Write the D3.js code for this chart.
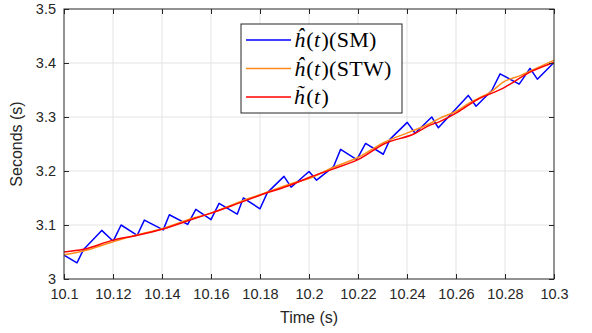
<!DOCTYPE html>
<html>
<head>
<meta charset="utf-8">
<script src="https://cdn.jsdelivr.net/npm/d3@7"></script>
<style>
  body { margin: 0; background: #fff; }
  text { font-family: "Liberation Sans", Arial, sans-serif; }
  .legend text { font-family: "Liberation Serif", "DejaVu Serif", serif; }
</style>
</head>
<body>
<svg id="chart" width="592" height="333"></svg>
<script>
// tick values
const xTicks = [10.1, 10.12, 10.14, 10.16, 10.18, 10.2, 10.22, 10.24, 10.26, 10.28, 10.3];
const yTicks = [3, 3.1, 3.2, 3.3, 3.4, 3.5];

// h^(t) (SM) - sawtooth measurement
const smTime = [10.1, 10.1053, 10.1079, 10.1154, 10.1201, 10.1233, 10.1299, 10.1328, 10.1405, 10.143,
  10.1505, 10.1538, 10.16, 10.1633, 10.1707, 10.1732, 10.18, 10.183, 10.1898, 10.1927,
  10.2, 10.2031, 10.21, 10.2129, 10.2195, 10.2231, 10.2303, 10.2331, 10.2401, 10.2433,
  10.2501, 10.2528, 10.265, 10.2682, 10.2746, 10.278, 10.2858, 10.2902, 10.2932, 10.3];
const smVal = [3.044, 3.03, 3.054, 3.09, 3.07, 3.1, 3.081, 3.109, 3.091, 3.119,
  3.101, 3.129, 3.11, 3.14, 3.12, 3.15, 3.13, 3.16, 3.19, 3.17,
  3.199, 3.183, 3.208, 3.24, 3.221, 3.251, 3.231, 3.259, 3.29, 3.27,
  3.3, 3.28, 3.34, 3.32, 3.349, 3.38, 3.361, 3.39, 3.37, 3.401];

// h^(t) (STW)
const stwTime = [10.1, 10.108, 10.12, 10.13, 10.14, 10.15, 10.16, 10.173, 10.18, 10.193,
  10.2, 10.21, 10.22, 10.231, 10.241, 10.2494, 10.2531, 10.2607, 10.2655, 10.2689,
  10.275, 10.2791, 10.2865, 10.2927, 10.3];
const stwVal = [3.045, 3.052, 3.069, 3.082, 3.093, 3.109, 3.122, 3.145, 3.156, 3.177,
  3.186, 3.207, 3.225, 3.254, 3.272, 3.288, 3.297, 3.312, 3.326, 3.334,
  3.349, 3.364, 3.377, 3.39, 3.405];

// h~(t)
const refTime = [10.1, 10.108, 10.12, 10.13, 10.14, 10.15, 10.16, 10.171, 10.18, 10.193,
  10.2, 10.21, 10.22, 10.231, 10.243, 10.2494, 10.2531, 10.2607, 10.2686, 10.2791,
  10.2902, 10.3];
const refVal = [3.05, 3.055, 3.072, 3.081, 3.092, 3.107, 3.122, 3.14, 3.155, 3.175,
  3.188, 3.204, 3.221, 3.251, 3.269, 3.285, 3.291, 3.309, 3.332, 3.353,
  3.383, 3.401];

const svg = d3.select("#chart");
const margin = { top: 9, right: 38, bottom: 54, left: 64 };
const iw = 592 - margin.left - margin.right;
const ih = 333 - margin.top - margin.bottom;
const axisCol = "#262626";

const g = svg.append("g").attr("transform", `translate(${margin.left},${margin.top})`);

const x = d3.scaleLinear().domain([10.1, 10.3]).range([0, iw]);
const y = d3.scaleLinear().domain([3, 3.5]).range([ih, 0]);

// grid
g.append("g").selectAll("line").data(xTicks.slice(1, -1)).join("line")
  .attr("x1", d => x(d)).attr("x2", d => x(d))
  .attr("y1", 0).attr("y2", ih)
  .attr("stroke", "#e3e3e3").attr("stroke-width", 1);
g.append("g").selectAll("line").data(yTicks.slice(1, -1)).join("line")
  .attr("y1", d => y(d)).attr("y2", d => y(d))
  .attr("x1", 0).attr("x2", iw)
  .attr("stroke", "#e3e3e3").attr("stroke-width", 1);

// lines
svg.append("defs").append("clipPath").attr("id", "clip")
  .append("rect").attr("width", iw).attr("height", ih);

const series = [
  { t: smTime, v: smVal, color: "#0000ff", curve: d3.curveLinear, label: ["ĥ", "(", "t", ")(SM)"] },
  { t: stwTime, v: stwVal, color: "#ff8c1a", curve: d3.curveMonotoneX, label: ["ĥ", "(", "t", ")(STW)"] },
  { t: refTime, v: refVal, color: "#ff0000", curve: d3.curveMonotoneX, label: ["h\u0303", "(", "t", ")"] }
];
const lines = g.append("g").attr("clip-path", "url(#clip)");
series.forEach(s => {
  const line = d3.line().x(d => x(d[0])).y(d => y(d[1])).curve(s.curve);
  lines.append("path")
    .datum(s.t.map((t, i) => [t, s.v[i]]))
    .attr("fill", "none")
    .attr("stroke", s.color)
    .attr("stroke-width", 1.5)
    .attr("stroke-linejoin", "round")
    .attr("d", line);
});

// axes (box with inward ticks)
const fmt = d => String(+d.toFixed(2));
const styleAxis = sel => {
  sel.select(".domain").remove();
  sel.selectAll("line").attr("stroke", axisCol);
  sel.selectAll("text").attr("fill", axisCol).attr("font-size", 14.5);
};
g.append("g").attr("transform", `translate(0,${ih})`)
  .call(d3.axisBottom(x).tickValues(xTicks).tickFormat(fmt).tickSizeInner(-5).tickSizeOuter(0).tickPadding(10))
  .call(styleAxis);
g.append("g")
  .call(d3.axisLeft(y).tickValues(yTicks).tickFormat(fmt).tickSizeInner(-5).tickSizeOuter(0).tickPadding(8))
  .call(styleAxis);
g.append("g")
  .call(d3.axisTop(x).tickValues(xTicks).tickFormat("").tickSizeInner(-5).tickSizeOuter(0))
  .call(styleAxis);
g.append("g").attr("transform", `translate(${iw},0)`)
  .call(d3.axisRight(y).tickValues(yTicks).tickFormat("").tickSizeInner(-5).tickSizeOuter(0))
  .call(styleAxis);
g.append("rect").attr("width", iw).attr("height", ih)
  .attr("fill", "none").attr("stroke", axisCol).attr("stroke-width", 1);

// axis labels
g.append("text")
  .attr("x", iw / 2).attr("y", ih + 44)
  .attr("text-anchor", "middle").attr("fill", axisCol).attr("font-size", 16)
  .text("Time (s)");
g.append("text")
  .attr("transform", "rotate(-90)")
  .attr("x", -ih / 2).attr("y", -42)
  .attr("text-anchor", "middle").attr("fill", axisCol).attr("font-size", 16)
  .text("Seconds (s)");

// legend
const lg = svg.append("g").attr("class", "legend").attr("transform", "translate(241,24)");
lg.append("rect").attr("width", 161).attr("height", 89)
  .attr("fill", "#fff").attr("stroke", axisCol).attr("stroke-width", 1);
series.forEach((s, i) => {
  const cy = 16 + i * 28.5;
  lg.append("line").attr("x1", 5).attr("x2", 50).attr("y1", cy).attr("y2", cy)
    .attr("stroke", s.color).attr("stroke-width", 1.5);
  const t = lg.append("text").attr("x", 53).attr("y", cy + 7)
    .attr("font-size", 22).attr("letter-spacing", 0.3).attr("fill", "#000");
  t.append("tspan").attr("font-style", "italic").text(s.label[0]);
  t.append("tspan").attr("dx", 1).text(s.label[1]);
  t.append("tspan").attr("font-style", "italic").text(s.label[2]);
  t.append("tspan").attr("dx", 1).text(s.label[3]);
});
</script>
</body>
</html>
